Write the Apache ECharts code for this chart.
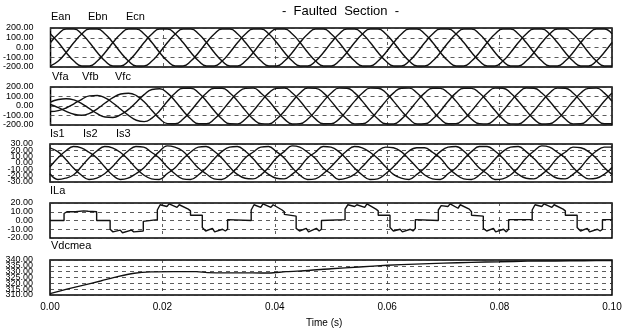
<!DOCTYPE html>
<html><head><meta charset="utf-8">
<script src="https://cdn.jsdelivr.net/npm/echarts/dist/echarts.min.js"></script>
<style>html,body{margin:0;padding:0;background:#fff}#c{width:627px;height:335px}</style>
</head><body><div id="c"></div>
<script>
// ---- time base for the sinusoidal panels (s) ----
const timeSteps = [0,0.00139,0.00278,0.00417,0.00556,0.00694,0.00833,0.00972,0.01111,0.0125,0.01389,0.01528,
0.01667,0.01806,0.01944,0.02083,0.02222,0.02361,0.025,0.02639,0.02778,0.02917,0.03056,0.03194,
0.03333,0.03472,0.03611,0.0375,0.03889,0.04028,0.04167,0.04306,0.04444,0.04583,0.04722,0.04861,
0.05,0.05139,0.05278,0.05417,0.05556,0.05694,0.05833,0.05972,0.06111,0.0625,0.06389,0.06528,
0.06667,0.06806,0.06944,0.07083,0.07222,0.07361,0.075,0.07639,0.07778,0.07917,0.08056,0.08194,
0.08333,0.08472,0.08611,0.0875,0.08889,0.09028,0.09167,0.09306,0.09444,0.09583,0.09722,0.09861,0.1];

// ---- Ean / Ebn / Ecn ----
const eanValues = [51,139,189,189,139,51,-51,-139,-189,-189,-139,-51,
51,139,189,189,139,51,-51,-139,-189,-189,-139,-51,
51,139,189,189,139,51,-51,-139,-189,-189,-139,-51,
51,139,189,189,139,51,-51,-139,-189,-189,-139,-51,
51,139,189,189,139,51,-51,-139,-189,-189,-139,-51,
51,139,189,189,139,51,-51,-139,-189,-189,-139,-51,51];
const ebnValues = [-189,-139,-51,51,139,189,189,139,51,-51,-139,-189,
-189,-139,-51,51,139,189,189,139,51,-51,-139,-189,
-189,-139,-51,51,139,189,189,139,51,-51,-139,-189,
-189,-139,-51,51,139,189,189,139,51,-51,-139,-189,
-189,-139,-51,51,139,189,189,139,51,-51,-139,-189,
-189,-139,-51,51,139,189,189,139,51,-51,-139,-189,-189];
const ecnValues = [139,51,-51,-139,-189,-189,-139,-51,51,139,189,189,
139,51,-51,-139,-189,-189,-139,-51,51,139,189,189,
139,51,-51,-139,-189,-189,-139,-51,51,139,189,189,
139,51,-51,-139,-189,-189,-139,-51,51,139,189,189,
139,51,-51,-139,-189,-189,-139,-51,51,139,189,189,
139,51,-51,-139,-189,-189,-139,-51,51,139,189,189,139];

// ---- Vfa / Vfb / Vfc ----
const vfaValues = [42,68,77,64,26,-28,-81,-116,-121,-92,-36,40,
120,174,182,136,50,-50,-137,-187,-187,-137,-50,50,
139,186,188,135,52,-48,-138,-189,-186,-136,-51,49,
136,188,187,138,49,-52,-136,-187,-189,-138,-49,51,
138,187,186,136,51,-50,-139,-186,-188,-137,-52,48,
137,189,187,137,50,-49,-137,-188,-187,-136,-50,50,137];
const vfbValues = [-58,-49,-21,23,71,106,111,85,32,-34,-99,-150,
-164,-127,-49,50,137,187,187,137,50,-50,-137,-187,
-188,-136,-51,49,138,186,189,136,52,-49,-138,-187,
-186,-138,-49,51,136,188,187,139,49,-51,-136,-189,
-187,-137,-52,50,138,187,186,137,51,-48,-137,-188,
-189,-136,-50,49,137,188,187,136,50,-50,-138,-187,-187];
const vfcValues = [16,-18,-57,-87,-97,-78,-30,31,88,126,135,110,
44,-47,-133,-185,-187,-137,-50,50,137,187,187,137,
51,-49,-138,-186,-188,-136,-52,48,137,189,186,138,
49,-51,-136,-188,-187,-139,-49,51,138,187,188,136,
52,-50,-137,-187,-186,-137,-51,49,136,188,187,137,
50,-49,-138,-189,-187,-136,-50,50,137,186,188,138,50];

// ---- Is1 / Is2 / Is3 ----
const is1Values = [-6,8,19,26,24,17,8,-6,-19,-26,-24,-17,
-8,6,18,27,25,19,6,-8,-17,-25,-26,-19,
-7,8,17,25,26,18,8,-7,-19,-26,-25,-17,
-6,7,19,26,24,17,7,-6,-18,-24,-26,-18,
-8,6,18,25,26,19,6,-8,-17,-26,-25,-19,
-7,8,19,27,25,17,8,-7,-18,-25,-24,-18,-7];
const is2Values = [-17,-26,-24,-19,-6,8,19,26,24,17,6,-8,
-19,-25,-26,-17,-8,6,17,25,26,19,8,-6,
-18,-24,-25,-19,-7,8,18,27,25,17,7,-8,
-17,-26,-24,-18,-6,7,19,25,24,18,6,-7,
-19,-25,-26,-17,-8,6,18,26,26,19,8,-6,
-18,-24,-25,-18,-7,8,17,25,24,18,7,-7,-18];
const is3Values = [24,18,6,-8,-19,-26,-24,-17,-6,8,19,26,
25,17,8,-6,-17,-25,-26,-19,-8,6,18,25,
26,19,7,-7,-18,-24,-25,-18,-7,8,17,26,
25,18,6,-8,-19,-26,-25,-17,-6,7,19,24,
24,17,8,-7,-18,-25,-26,-19,-8,6,18,25,
26,18,7,-6,-17,-24,-25,-18,-7,8,19,25,25];

// ---- ILa (vertices of the stepped current) ----
const ilaTime = [0,0.0025,0.0025,0.003,0.0045,0.006,0.0068,0.0083,0.0083,0.0107,0.0107,0.0112,0.0125,0.0129,0.0145,0.0149,0.0166,0.0166,
0.0191,0.0191,0.0196,0.0208,0.0212,0.0226,0.023,0.0246,0.025,0.025,0.0271,0.0271,0.0277,0.0289,0.0293,0.0307,0.0312,0.0316,0.0316,
0.0358,0.0358,0.0363,0.0375,0.0379,0.0393,0.0397,0.0413,0.0417,0.0417,0.0438,0.0438,0.0444,0.0456,0.046,0.0474,0.0479,0.0483,0.0483,
0.0525,0.0525,0.053,0.0542,0.0546,0.056,0.0564,0.058,0.0584,0.0584,0.0605,0.0605,0.0611,0.0623,0.0627,0.0641,0.0646,0.065,0.065,
0.0691,0.0691,0.0696,0.0708,0.0712,0.0726,0.073,0.0746,0.075,0.075,0.0771,0.0771,0.0777,0.0789,0.0793,0.0807,0.0812,0.0816,0.0816,
0.0858,0.0858,0.0863,0.0875,0.0879,0.0893,0.0897,0.0913,0.0917,0.0917,0.0938,0.0938,0.0944,0.0956,0.096,0.0974,0.0979,0.0983,0.0983,0.1];
const ilaValues = [0,0,8,10,10,11,10.5,10,0,0,-10,-13,-11,-14,-11,-13,-12,-1,
1,12,18,16,19,15,18,13,11,6,6,-8,-12,-9,-13,-10,-12,-10,1,
0,12,18,15,19,15,18,12,10,7,5,-9,-12,-9,-13,-9,-12,-10,0,
1,13,18,16,18,15,19,13,11,6,6,-8,-12,-10,-13,-10,-12,-9,1,
0,12,17,16,19,14,18,13,10,6,5,-9,-12,-9,-13,-10,-13,-10,1,
1,12,18,16,19,15,18,13,11,6,6,-8,-12,-9,-13,-10,-12,-10,1,1];

// ---- Vdcmea ----
const vdcTime = [0,0.003,0.006,0.009,0.012,0.015,0.018,0.022,0.026,0.028,0.032,0.036,0.039,0.042,0.046,0.05,0.055,0.06,0.065,0.07,0.075,0.08,0.085,0.09,0.095,0.1];
const vdcValues = [311.2,315,318.5,322,325.8,328.7,329.8,330,330,329.2,329,329,328.8,330,331,332.5,334,335.5,336.5,337.3,338,338.5,339,339.2,339.4,339.5];

// ---- labels ----
const panelLabels = [["Ean","Ebn","Ecn"],["Vfa","Vfb","Vfc"],["Is1","Is2","Is3"],["ILa"],["Vdcmea"]];
const titleText = "-  Faulted  Section  -";
const xAxisName = "Time (s)";
const yMins = [-200,-200,-30,-20,310];
const yMaxs = [200,200,30,20,340];
const yIntervals = [100,100,10,10,5];

// ---- layout (not data) ----
const gridTops = [28,87,144,203,260];
const gridHeights = [39,38,38,35,35];
const labelY = [17,77,134,191,246];
const labelX = [[51,88,126],[52,82,115],[50,83,116],[50],[51]];

const chart = echarts.init(document.getElementById('c'), null, {renderer:'canvas'});
const pairs = (ts, vs) => ts.map((t,i)=>[t, vs[i]]);
const FONT = 'Liberation Sans, Arial, sans-serif';

const grids = [], xAxes = [], yAxes = [], series = [], graphics = [];
for (let i = 0; i < 5; i++) {
  grids.push({left:50, right:15, top:gridTops[i], height:gridHeights[i], show:true,
    borderColor:'#000', borderWidth:1.5, backgroundColor:'transparent'});
  xAxes.push({type:'value', gridIndex:i, min:0, max:0.1, interval:0.02,
    axisLine:{show:false}, axisTick:{show:false},
    axisLabel:{show:i===4, margin:7, fontSize:10, color:'#000', fontFamily:FONT,
      showMinLabel:true, showMaxLabel:true,
      formatter:v=>v.toFixed(2)},
    splitLine:{show:true, lineStyle:{color:'#333', width:0.8, type:[3,4]}}});
}
// two y axes per panel: one labels even ticks, the other odd ticks (labels overlap like the original)
for (let par = 0; par < 2; par++) {
  for (let i = 0; i < 5; i++) {
    const mn = yMins[i], iv = yIntervals[i];
    yAxes.push({type:'value', gridIndex:i, position:'left', offset:0,
      min:mn, max:yMaxs[i], interval:iv,
      axisLine:{show:false, onZero:false}, axisTick:{show:false},
      axisLabel:{show:true, margin:17, fontSize:9, color:'#000', fontFamily:FONT,
        showMinLabel:true, showMaxLabel:true,
        formatter:v=>(Math.round((v-mn)/iv)%2===par ? v.toFixed(2) : '')},
      splitLine:{show:par===0, lineStyle:{color:'#333', width:0.8, type:[4,4]}}});
  }
}
for (let i = 0; i < 5; i++) {
  panelLabels[i].forEach((txt, j) => {
    graphics.push({type:'text', left:labelX[i][j], top:labelY[i]-6,
      style:{text:txt, fill:'#000', font:'11px ' + FONT}});
  });
}
const lineBase = (xi, data, smooth) => ({type:'line', xAxisIndex:xi, yAxisIndex:xi, data,
  showSymbol:false, symbol:'none', smooth:smooth, animation:false,
  lineStyle:{color:'#111', width:1.4}});
series.push(lineBase(0, pairs(timeSteps, eanValues), 0.5));
series.push(lineBase(0, pairs(timeSteps, ebnValues), 0.5));
series.push(lineBase(0, pairs(timeSteps, ecnValues), 0.5));
series.push(lineBase(1, pairs(timeSteps, vfaValues), 0.5));
series.push(lineBase(1, pairs(timeSteps, vfbValues), 0.5));
series.push(lineBase(1, pairs(timeSteps, vfcValues), 0.5));
series.push(lineBase(2, pairs(timeSteps, is1Values), 0.4));
series.push(lineBase(2, pairs(timeSteps, is2Values), 0.4));
series.push(lineBase(2, pairs(timeSteps, is3Values), 0.4));
series.push(lineBase(3, pairs(ilaTime, ilaValues), false));
series.push(lineBase(4, pairs(vdcTime, vdcValues), 0.3));

graphics.push({type:'text', left:282, top:5, style:{text:titleText, fill:'#000', font:'13px ' + FONT}});
graphics.push({type:'text', left:306, top:318, style:{text:xAxisName, fill:'#000', font:'10px ' + FONT}});

chart.setOption({
  animation:false,
  backgroundColor:'#fff',
  grid:grids, xAxis:xAxes, yAxis:yAxes, series, graphic:graphics
});
</script></body></html>
